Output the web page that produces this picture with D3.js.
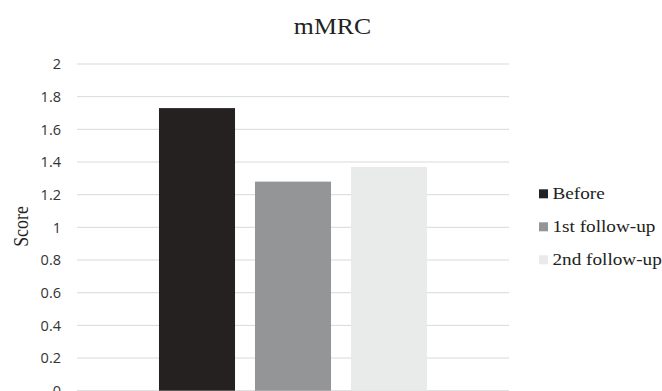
<!DOCTYPE html>
<html>
<head>
<meta charset="utf-8">
<script src="https://cdn.jsdelivr.net/npm/d3@7"></script>
<style>
  html, body { margin: 0; padding: 0; background: #fff; }
  svg { display: block; }
</style>
</head>
<body>
<svg id="chart" width="662" height="391"></svg>
<script>
const title = "mMRC";
const category = ["mMRC"];
const seriesNames = ["Before", "1st follow-up", "2nd follow-up"];
const seriesValues = [1.73, 1.28, 1.37];
const seriesColors = ["#252120", "#949597", "#e9ebea"];
const yTicks = [0, 0.2, 0.4, 0.6, 0.8, 1, 1.2, 1.4, 1.6, 1.8, 2];
const yLabel = "Score";

const svg = d3.select("#chart");
const plot = { left: 77, right: 509, top: 64, bottom: 390.7 };
const serif = "'Liberation Serif', 'Times New Roman', serif";

const y = d3.scaleLinear().domain([0, 2]).range([plot.bottom, plot.top]);
const x = d3.scaleBand().domain(seriesNames).range([plot.left, plot.right])
  .paddingInner(0.208).paddingOuter(0.854);

// gridlines
svg.append("g").selectAll("line").data(yTicks).join("line")
  .attr("x1", plot.left).attr("x2", plot.right)
  .attr("y1", d => y(d)).attr("y2", d => y(d))
  .attr("stroke", "#d9d9d9").attr("stroke-width", 1);

// y axis labels
const yAxis = d3.axisLeft(y).tickValues(yTicks).tickSize(0).tickPadding(0)
  .tickFormat(d => d3.format("~g")(d));
const ga = svg.append("g").attr("transform", `translate(61,0)`).call(yAxis);
ga.select(".domain").remove();
ga.selectAll("text")
  .attr("font-family", "'Open Sans', sans-serif")
  .attr("font-size", 14.5)
  .attr("fill", "#333")
  .attr("dy", "0.34em");

// bars
svg.append("g").selectAll("rect").data(seriesNames).join("rect")
  .attr("x", d => x(d))
  .attr("width", x.bandwidth())
  .attr("y", (d, i) => y(seriesValues[i]))
  .attr("height", (d, i) => y(0) - y(seriesValues[i]))
  .attr("fill", (d, i) => seriesColors[i]);

// title
svg.append("text")
  .attr("transform", "translate(332.5,34) scale(1.12,1)")
  .attr("text-anchor", "middle")
  .attr("font-family", serif)
  .attr("font-size", 23)
  .attr("fill", "#222")
  .text(title);

// y label
svg.append("text")
  .attr("transform", "translate(28,226.5) rotate(-90) scale(1.05,1.2)")
  .attr("text-anchor", "middle")
  .attr("font-family", serif)
  .attr("font-size", 17)
  .attr("fill", "#222")
  .text(yLabel);

// legend
const leg = svg.append("g").selectAll("g").data(seriesNames).join("g")
  .attr("transform", (d, i) => `translate(539,${189.3 + i * 33})`);
leg.append("rect").attr("width", 9).attr("height", 9)
  .attr("fill", (d, i) => seriesColors[i]);
leg.append("text")
  .attr("transform", "translate(13.5,10) scale(1.2,1)")
  .attr("font-family", serif)
  .attr("font-size", 16)
  .attr("fill", "#222")
  .text(d => d);
</script>
</body>
</html>
